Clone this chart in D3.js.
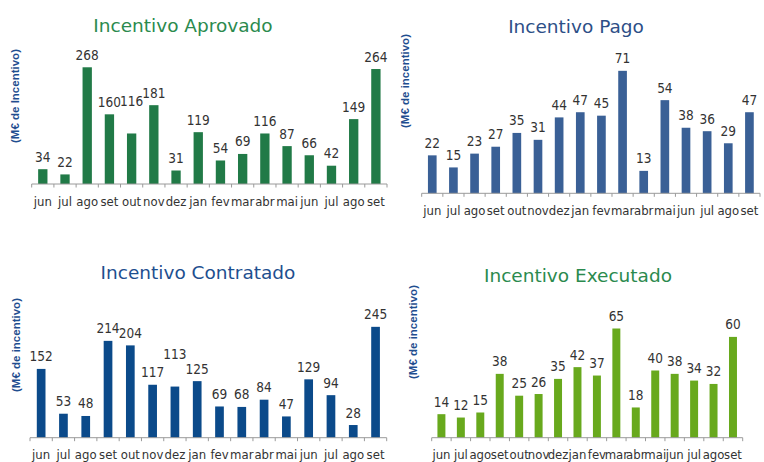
<!DOCTYPE html>
<html>
<head>
<meta charset="utf-8">
<script src="https://cdn.jsdelivr.net/npm/d3@7"></script>
<style>
  html, body { margin: 0; padding: 0; background: #fff; }
  svg { display: block; }
</style>
</head>
<body>
<svg id="chart" width="764" height="462"></svg>
<script>
// ---- data ----
const months = ["jun","jul","ago","set","out","nov","dez","jan","fev","mar","abr","mai","jun","jul","ago","set"];
const aprovado   = [34, 22, 268, 160, 116, 181, 31, 119, 54, 69, 116, 87, 66, 42, 149, 264];
const pago       = [22, 15, 23, 27, 35, 31, 44, 47, 45, 71, 13, 54, 38, 36, 29, 47];
const contratado = [152, 53, 48, 214, 204, 117, 113, 125, 69, 68, 84, 47, 129, 94, 28, 245];
const executado  = [14, 12, 15, 38, 25, 26, 35, 42, 37, 65, 18, 40, 38, 34, 32, 60];

// ---- layout / style ----
const panels = [
  { title: "Incentivo Aprovado", ylabel: "(M€ de Incentivo)", values: aprovado,
    titleColor: "#2b8a4e", barColor: "#217a47",
    x0: 31.7, x1: 387, axisY: 184, yMax: 300, pxPerUnit: 0.4355,
    titleX: 183, titleY: 31.5, ylX: 15, ylY: 96, barFrac: 0.42, raise: {4: 20} },
  { title: "Incentivo Pago", ylabel: "(M€ de incentivo)", values: pago,
    titleColor: "#2d4f87", barColor: "#3a6096",
    x0: 421.7, x1: 760, axisY: 193.3, yMax: 80, pxPerUnit: 1.725,
    titleX: 576, titleY: 33, ylX: 405, ylY: 81, barFrac: 0.41, raise: {} },
  { title: "Incentivo Contratado", ylabel: "(M€ de incentivo)", values: contratado,
    titleColor: "#1e4f8f", barColor: "#0b4a8a",
    x0: 30, x1: 386.7, axisY: 437.7, yMax: 300, pxPerUnit: 0.4525,
    titleX: 198, titleY: 279, ylX: 16, ylY: 345, barFrac: 0.39, raise: {6: 20} },
  { title: "Incentivo Executado", ylabel: "(M€ de incentivo)", values: executado,
    titleColor: "#2b8a4e", barColor: "#68a91d",
    x0: 431.7, x1: 742.7, axisY: 437.7, yMax: 80, pxPerUnit: 1.68,
    titleX: 578, titleY: 281.5, ylX: 412.5, ylY: 332, barFrac: 0.41, raise: {} }
];

const svg = d3.select("#chart");
const labelFont = "'DejaVu Sans Condensed', 'DejaVu Sans', sans-serif";

panels.forEach(p => {
  const g = svg.append("g");
  const idx = months.map((m, i) => i);
  const x = d3.scaleBand().domain(idx).range([p.x0, p.x1]).padding(0);
  const y = d3.scaleLinear().domain([0, p.yMax]).range([p.axisY, p.axisY - p.yMax * p.pxPerUnit]);
  const bw = x.step() * p.barFrac;

  // title
  g.append("text")
    .attr("x", p.titleX).attr("y", p.titleY)
    .attr("text-anchor", "middle")
    .attr("font-family", "'DejaVu Sans', Verdana, sans-serif")
    .attr("font-size", 18.5)
    .attr("fill", p.titleColor)
    .text(p.title);

  // y label
  g.append("text")
    .attr("transform", `translate(${p.ylX},${p.ylY}) rotate(-90)`)
    .attr("text-anchor", "middle")
    .attr("dominant-baseline", "central")
    .attr("font-family", "'Liberation Sans', Arial, sans-serif")
    .attr("font-weight", "bold")
    .attr("font-size", 11.5)
    .attr("fill", "#1f4e8f")
    .text(p.ylabel);

  // bars
  g.selectAll("rect.bar").data(p.values).enter().append("rect")
    .attr("class", "bar")
    .attr("x", (d, i) => x(i) + (x.step() - bw) / 2)
    .attr("width", bw)
    .attr("y", d => y(d))
    .attr("height", d => y(0) - y(d))
    .attr("fill", p.barColor);

  // value labels
  g.selectAll("text.val").data(p.values).enter().append("text")
    .attr("class", "val")
    .attr("x", (d, i) => x(i) + x.step() / 2)
    .attr("y", (d, i) => y(d) - 7.5 - (p.raise[i] || 0))
    .attr("text-anchor", "middle")
    .attr("font-family", labelFont)
    .attr("font-size", 13.5)
    .attr("fill", "#333")
    .text(d => d);

  // x axis
  const axis = d3.axisBottom(x).tickSize(0).tickFormat(i => months[i]);
  const ag = g.append("g").attr("transform", `translate(0,${p.axisY})`).call(axis);
  ag.select(".domain").attr("stroke", "#9a9a9a").attr("d", `M${p.x0},0H${p.x1}`);
  ag.selectAll(".tick text")
    .attr("y", 21.5).attr("dy", 0)
    .attr("font-family", labelFont)
    .attr("font-size", 13)
    .attr("fill", "#333");
  // boundary ticks
  const bounds = idx.map(i => x(i)).concat([p.x1]);
  ag.selectAll("line.bt").data(bounds).enter().append("line")
    .attr("class", "bt")
    .attr("x1", d => d).attr("x2", d => d)
    .attr("y1", 0).attr("y2", 3.5)
    .attr("stroke", "#9a9a9a");
});
</script>
</body>
</html>
